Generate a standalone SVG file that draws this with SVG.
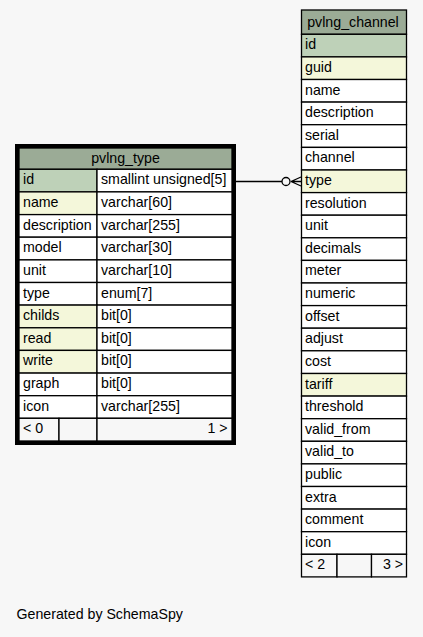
<svg xmlns="http://www.w3.org/2000/svg" width="423" height="637" viewBox="0 0 423 637">
<style>
text{font-family:"Liberation Sans",Arial,Helvetica,sans-serif;font-size:14.2px;fill:#000}
.c{stroke:#000;stroke-width:1.3;fill:#fff}
.h{fill:#9bab96}
.k{fill:#bed1b8}
.y{fill:#f4f7da}
.f{fill:#f7f7f7}
.m{text-anchor:middle}
.e{text-anchor:end}
.conn{stroke:#000;stroke-width:1.3;fill:none}
</style>
<rect width="423" height="637" fill="#f7f7f7"/>
<g id="pvlng_type">
<rect class="c h" x="19" y="148" width="213" height="21.3"/>
<text class="m" x="125.5" y="162.5">pvlng_type</text>
<rect class="c k" x="19" y="169.3" width="78" height="22.6"/><rect class="c" x="97" y="169.3" width="135" height="22.6"/>
<text x="23" y="184.3">id</text><text x="101" y="184.3">smallint unsigned[5]</text>
<rect class="c y" x="19" y="191.9" width="78" height="22.7"/><rect class="c" x="97" y="191.9" width="135" height="22.7"/>
<text x="23" y="206.9">name</text><text x="101" y="206.9">varchar[60]</text>
<rect class="c" x="19" y="214.6" width="78" height="22.6"/><rect class="c" x="97" y="214.6" width="135" height="22.6"/>
<text x="23" y="229.6">description</text><text x="101" y="229.6">varchar[255]</text>
<rect class="c" x="19" y="237.2" width="78" height="22.7"/><rect class="c" x="97" y="237.2" width="135" height="22.7"/>
<text x="23" y="252.2">model</text><text x="101" y="252.2">varchar[30]</text>
<rect class="c" x="19" y="259.9" width="78" height="22.6"/><rect class="c" x="97" y="259.9" width="135" height="22.6"/>
<text x="23" y="274.9">unit</text><text x="101" y="274.9">varchar[10]</text>
<rect class="c" x="19" y="282.5" width="78" height="22.6"/><rect class="c" x="97" y="282.5" width="135" height="22.6"/>
<text x="23" y="297.5">type</text><text x="101" y="297.5">enum[7]</text>
<rect class="c y" x="19" y="305.1" width="78" height="22.7"/><rect class="c" x="97" y="305.1" width="135" height="22.7"/>
<text x="23" y="320.1">childs</text><text x="101" y="320.1">bit[0]</text>
<rect class="c y" x="19" y="327.8" width="78" height="22.6"/><rect class="c" x="97" y="327.8" width="135" height="22.6"/>
<text x="23" y="342.8">read</text><text x="101" y="342.8">bit[0]</text>
<rect class="c y" x="19" y="350.4" width="78" height="22.7"/><rect class="c" x="97" y="350.4" width="135" height="22.7"/>
<text x="23" y="365.4">write</text><text x="101" y="365.4">bit[0]</text>
<rect class="c" x="19" y="373.1" width="78" height="22.6"/><rect class="c" x="97" y="373.1" width="135" height="22.6"/>
<text x="23" y="388.1">graph</text><text x="101" y="388.1">bit[0]</text>
<rect class="c" x="19" y="395.7" width="78" height="22.6"/><rect class="c" x="97" y="395.7" width="135" height="22.6"/>
<text x="23" y="410.7">icon</text><text x="101" y="410.7">varchar[255]</text>
<rect class="c f" x="19" y="418.3" width="40" height="22.7"/><rect class="c f" x="59" y="418.3" width="38" height="22.7"/><rect class="c f" x="97" y="418.3" width="135" height="22.7"/>
<text x="23" y="433.3">&lt; 0</text><text class="e" x="227.5" y="433.3">1 &gt;</text>
<rect x="17" y="146" width="217" height="297" fill="none" stroke="#000" stroke-width="4"/>
</g>
<g id="pvlng_channel">
<rect class="c h" x="301.5" y="10" width="105" height="24.3"/>
<text class="m" x="353" y="27">pvlng_channel</text>
<rect class="c k" x="301.5" y="34.3" width="105" height="22.6"/><text x="305" y="49.3">id</text>
<rect class="c y" x="301.5" y="56.9" width="105" height="22.6"/><text x="305" y="71.9">guid</text>
<rect class="c" x="301.5" y="79.5" width="105" height="22.6"/><text x="305" y="94.5">name</text>
<rect class="c" x="301.5" y="102.1" width="105" height="22.6"/><text x="305" y="117.1">description</text>
<rect class="c" x="301.5" y="124.7" width="105" height="22.7"/><text x="305" y="139.7">serial</text>
<rect class="c" x="301.5" y="147.4" width="105" height="22.6"/><text x="305" y="162.4">channel</text>
<rect class="c y" x="301.5" y="170" width="105" height="22.6"/><text x="305" y="185">type</text>
<rect class="c" x="301.5" y="192.6" width="105" height="22.6"/><text x="305" y="207.6">resolution</text>
<rect class="c" x="301.5" y="215.2" width="105" height="22.6"/><text x="305" y="230.2">unit</text>
<rect class="c" x="301.5" y="237.8" width="105" height="22.6"/><text x="305" y="252.8">decimals</text>
<rect class="c" x="301.5" y="260.4" width="105" height="22.6"/><text x="305" y="275.4">meter</text>
<rect class="c" x="301.5" y="283" width="105" height="22.6"/><text x="305" y="298">numeric</text>
<rect class="c" x="301.5" y="305.6" width="105" height="22.6"/><text x="305" y="320.6">offset</text>
<rect class="c" x="301.5" y="328.2" width="105" height="22.6"/><text x="305" y="343.2">adjust</text>
<rect class="c" x="301.5" y="350.8" width="105" height="22.7"/><text x="305" y="365.8">cost</text>
<rect class="c y" x="301.5" y="373.5" width="105" height="22.6"/><text x="305" y="388.5">tariff</text>
<rect class="c" x="301.5" y="396.1" width="105" height="22.6"/><text x="305" y="411.1">threshold</text>
<rect class="c" x="301.5" y="418.7" width="105" height="22.6"/><text x="305" y="433.7">valid_from</text>
<rect class="c" x="301.5" y="441.3" width="105" height="22.6"/><text x="305" y="456.3">valid_to</text>
<rect class="c" x="301.5" y="463.9" width="105" height="22.6"/><text x="305" y="478.9">public</text>
<rect class="c" x="301.5" y="486.5" width="105" height="22.6"/><text x="305" y="501.5">extra</text>
<rect class="c" x="301.5" y="509.1" width="105" height="22.6"/><text x="305" y="524.1">comment</text>
<rect class="c" x="301.5" y="531.7" width="105" height="22.6"/><text x="305" y="546.7">icon</text>
<rect class="c f" x="301.5" y="554.3" width="35.5" height="22.6"/><rect class="c f" x="337" y="554.3" width="34.5" height="22.6"/><rect class="c f" x="371.5" y="554.3" width="35" height="22.6"/>
<text x="305" y="569.3">&lt; 2</text><text class="e" x="403" y="569.3">3 &gt;</text>
</g>
<g id="connectors">
<g id="pvlng_channel_type-pvlng_type_id">
<line class="conn" x1="236" y1="181.5" x2="282" y2="181.5"/>
<circle class="conn" cx="286" cy="181.5" r="4"/>
<path class="conn" stroke-width="1.6" d="M291,181.5 L301,177 M291,181.5 L301,181.5 M291,181.5 L301,186"/>
</g>
</g>
<text x="16.5" y="619">Generated by SchemaSpy</text>
</svg>
